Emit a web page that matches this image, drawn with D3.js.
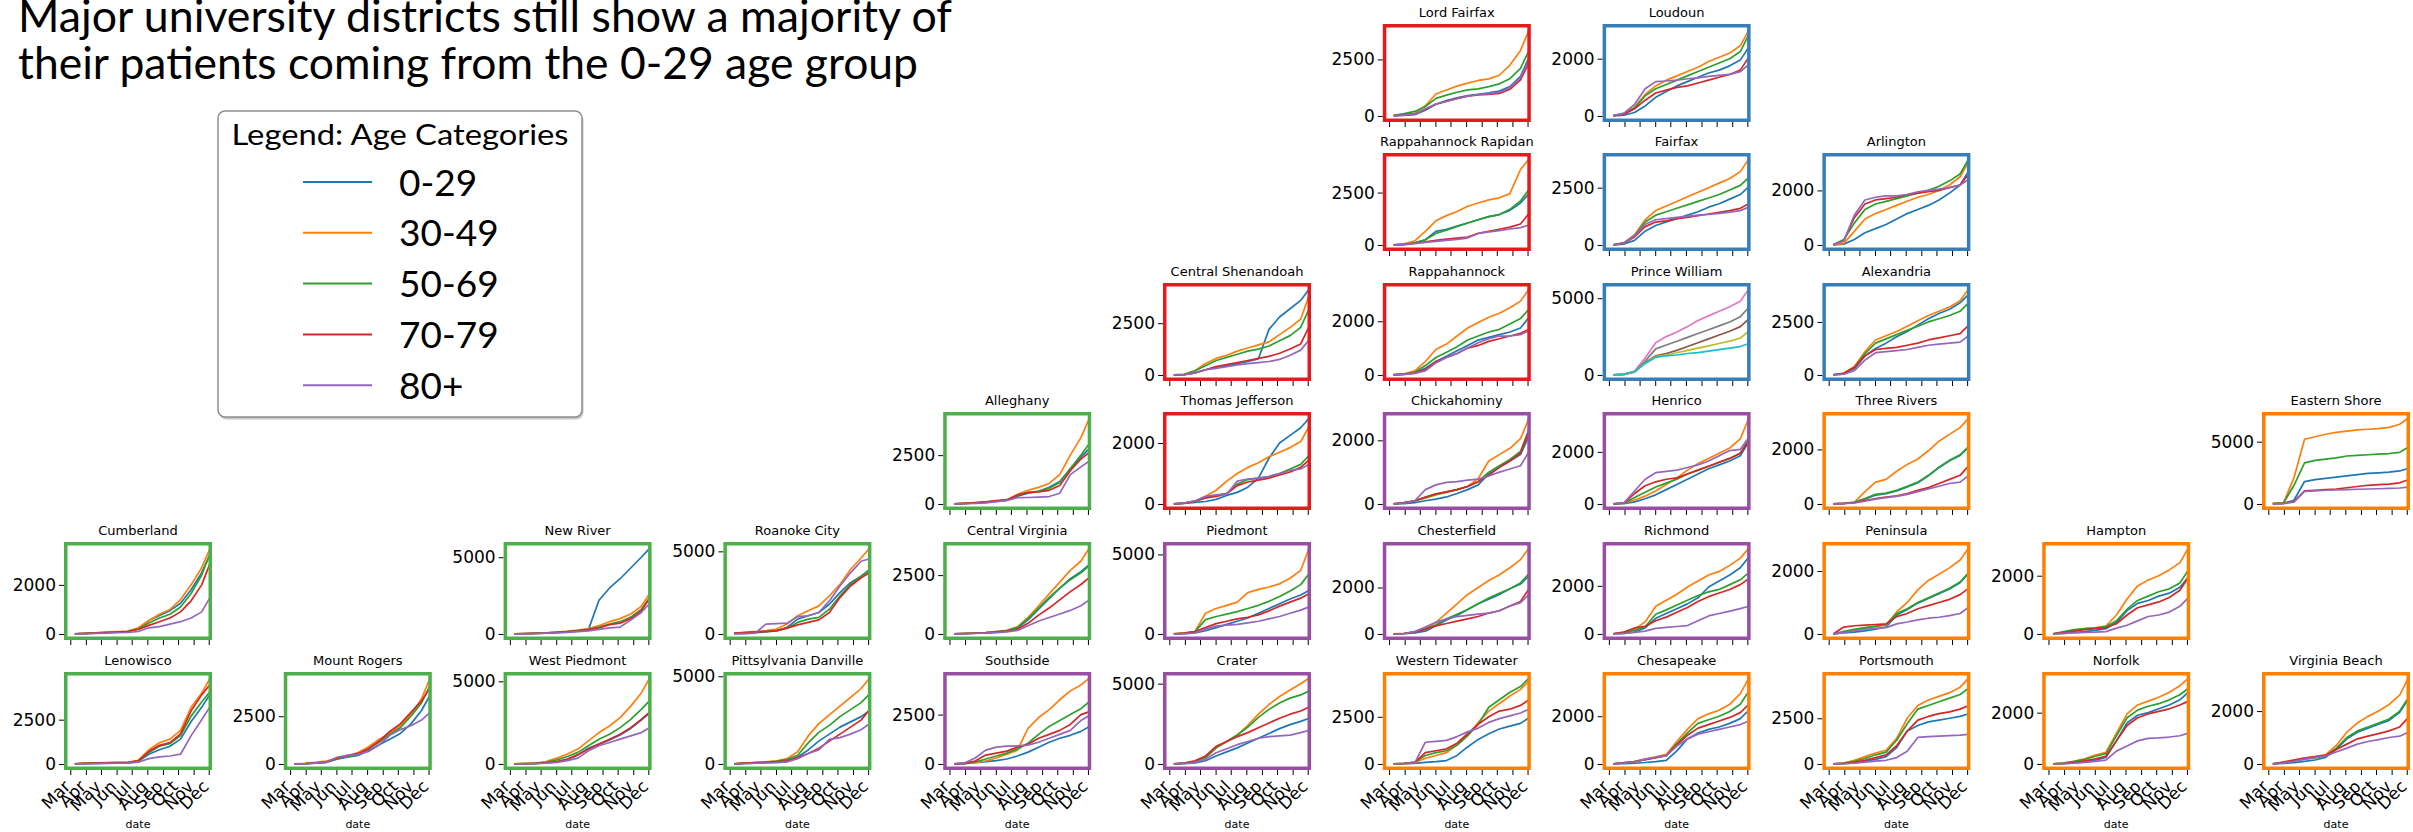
<!DOCTYPE html>
<html>
<head>
<meta charset="utf-8">
<script src="https://cdn.jsdelivr.net/npm/d3@7"></script>
<style>
  html, body { margin: 0; padding: 0; background: #fff; }
  svg { display: block; }
</style>
</head>
<body>
<svg id="chart" width="2413" height="832"></svg>
<script>
// Sample dates for the cumulative case counts (every three weeks, 2020)
const sampleDates = ["2020-03-10", "2020-03-31", "2020-04-21", "2020-05-12", "2020-06-02", "2020-06-23",
  "2020-07-14", "2020-08-04", "2020-08-25", "2020-09-15", "2020-10-06", "2020-10-27", "2020-11-17", "2020-12-04"];

const ageGroups = ["0-29", "30-49", "50-69", "70-79", "80+"];
const tab10 = ["#1f77b4", "#ff7f0e", "#2ca02c", "#d62728", "#9467bd",
  "#8c564b", "#e377c2", "#7f7f7f", "#bcbd22", "#17becf"];

// Health-planning regions and their frame colours
const regionColors = { Northwest: "#e41a1c", Northern: "#377eb8", Southwest: "#4daf4a", Central: "#984ea3", Eastern: "#ff7f00" };

const districtNames = ["Lord Fairfax", "Loudoun", "Rappahannock Rapidan", "Fairfax", "Arlington",
  "Central Shenandoah", "Rappahannock", "Prince William", "Alexandria",
  "Alleghany", "Thomas Jefferson", "Chickahominy", "Henrico", "Three Rivers", "Eastern Shore",
  "Cumberland", "New River", "Roanoke City", "Central Virginia", "Piedmont", "Chesterfield", "Richmond", "Peninsula", "Hampton",
  "Lenowisco", "Mount Rogers", "West Piedmont", "Pittsylvania Danville", "Southside", "Crater",
  "Western Tidewater", "Chesapeake", "Portsmouth", "Norfolk", "Virginia Beach"];
const districtRegion = ["Northwest", "Northern", "Northwest", "Northern", "Northern",
  "Northwest", "Northwest", "Northern", "Northern",
  "Southwest", "Northwest", "Central", "Central", "Eastern", "Eastern",
  "Southwest", "Southwest", "Southwest", "Southwest", "Central", "Central", "Central", "Eastern", "Eastern",
  "Southwest", "Southwest", "Southwest", "Southwest", "Central", "Central",
  "Eastern", "Eastern", "Eastern", "Eastern", "Eastern"];
const districtRow = [0, 0, 1, 1, 1, 2, 2, 2, 2, 3, 3, 3, 3, 3, 3, 4, 4, 4, 4, 4, 4, 4, 4, 4, 5, 5, 5, 5, 5, 5, 5, 5, 5, 5, 5];
const districtCol = [6, 7, 6, 7, 8, 5, 6, 7, 8, 4, 5, 6, 7, 8, 10, 0, 2, 3, 4, 5, 6, 7, 8, 9, 0, 1, 2, 3, 4, 5, 6, 7, 8, 9, 10];
const districtYTick = [2500, 2000, 2500, 2500, 2000, 2500, 2000, 5000, 2500,
  2500, 2000, 2000, 2000, 2000, 5000,
  2000, 5000, 5000, 2500, 5000, 2000, 2000, 2000, 2000,
  2500, 2500, 5000, 5000, 2500, 5000, 2500, 2000, 2500, 2000, 2000];
// Prince William was drawn with the second half of the colour cycle
const districtColorOffset = districtNames.map(n => n === "Prince William" ? 5 : 0);

// Cumulative cases per age group: [0-29, 30-49, 50-69, 70-79, 80+]
const lordFairfax = [
  [10, 30, 60, 250, 520, 680, 800, 900, 960, 1020, 1100, 1300, 1750, 2600],
  [20, 60, 120, 450, 970, 1150, 1320, 1450, 1570, 1640, 1800, 2250, 2900, 3800],
  [30, 100, 200, 420, 780, 920, 1050, 1150, 1200, 1300, 1420, 1650, 2100, 2900],
  [10, 50, 90, 300, 520, 650, 780, 880, 930, 950, 1000, 1180, 1600, 2350],
  [5, 40, 80, 320, 530, 640, 760, 880, 950, 990, 1050, 1250, 1700, 2450]];
const loudoun = [
  [5, 30, 120, 350, 650, 850, 1050, 1200, 1350, 1500, 1600, 1750, 1950, 2400],
  [10, 80, 300, 750, 1050, 1250, 1400, 1550, 1700, 1900, 2050, 2200, 2450, 3000],
  [10, 80, 280, 700, 950, 1100, 1250, 1400, 1550, 1700, 1850, 2000, 2250, 2850],
  [10, 60, 250, 550, 800, 900, 1000, 1050, 1150, 1250, 1350, 1450, 1600, 2050],
  [10, 100, 400, 950, 1200, 1220, 1250, 1300, 1330, 1380, 1420, 1450, 1550, 1800]];
const rappahannockRapidan = [
  [0, 30, 100, 250, 650, 750, 900, 1050, 1200, 1350, 1450, 1650, 2000, 2450],
  [10, 50, 200, 650, 1150, 1400, 1600, 1850, 2000, 2150, 2250, 2450, 3600, 4100],
  [0, 30, 100, 250, 550, 700, 880, 1050, 1200, 1350, 1450, 1700, 2100, 2650],
  [0, 30, 80, 150, 220, 280, 330, 380, 550, 650, 750, 850, 1000, 1500],
  [0, 20, 60, 120, 170, 220, 270, 330, 550, 620, 680, 760, 830, 950]];
const fairfax = [
  [5, 40, 200, 600, 850, 1000, 1150, 1300, 1450, 1650, 1800, 2000, 2200, 2550],
  [10, 100, 450, 1100, 1500, 1700, 1900, 2100, 2300, 2500, 2700, 2900, 3200, 3750],
  [10, 90, 400, 1000, 1300, 1450, 1600, 1750, 1900, 2050, 2200, 2400, 2600, 2950],
  [5, 80, 350, 800, 1000, 1050, 1150, 1200, 1280, 1350, 1420, 1500, 1600, 1800],
  [5, 80, 400, 900, 1100, 1150, 1200, 1250, 1300, 1330, 1380, 1430, 1500, 1650]];
const arlington = [
  [5, 30, 200, 450, 600, 750, 950, 1150, 1300, 1450, 1650, 1900, 2200, 2700],
  [5, 60, 500, 950, 1150, 1300, 1450, 1600, 1750, 1850, 2000, 2200, 2500, 3050],
  [10, 200, 800, 1300, 1500, 1600, 1700, 1800, 1900, 2000, 2150, 2350, 2600, 3150],
  [10, 150, 1000, 1500, 1650, 1700, 1750, 1850, 1900, 1950, 2000, 2100, 2200, 2600],
  [10, 150, 1100, 1650, 1750, 1800, 1800, 1850, 1950, 2000, 2050, 2100, 2200, 2400]];
const centralShenandoah = [
  [0, 20, 100, 250, 350, 450, 550, 650, 780, 2200, 2800, 3200, 3600, 4150],
  [0, 30, 200, 550, 800, 950, 1150, 1300, 1450, 1600, 1950, 2300, 2700, 3850],
  [0, 30, 200, 450, 700, 850, 1000, 1150, 1250, 1400, 1650, 1900, 2300, 3200],
  [0, 20, 100, 250, 400, 500, 600, 700, 800, 900, 1050, 1250, 1500, 2350],
  [0, 20, 100, 250, 320, 400, 480, 550, 600, 650, 750, 950, 1200, 1700]];
const rappahannock = [
  [5, 20, 70, 250, 500, 700, 900, 1100, 1300, 1400, 1500, 1600, 1750, 2150],
  [10, 40, 150, 500, 950, 1150, 1450, 1750, 1950, 2150, 2300, 2500, 2750, 3200],
  [10, 30, 100, 350, 650, 850, 1050, 1300, 1450, 1600, 1700, 1900, 2100, 2450],
  [5, 30, 80, 200, 500, 650, 800, 1000, 1100, 1250, 1350, 1450, 1550, 1700],
  [5, 20, 60, 150, 450, 650, 800, 1000, 1200, 1350, 1450, 1450, 1500, 1650]];
const princeWilliam = [
  [10, 40, 200, 800, 1250, 1400, 1600, 1850, 2100, 2350, 2600, 2850, 3150, 3650],
  [10, 50, 250, 1100, 2100, 2500, 2800, 3150, 3550, 3850, 4150, 4450, 4800, 5600],
  [10, 40, 200, 900, 1700, 1950, 2200, 2450, 2700, 2950, 3200, 3450, 3800, 4400],
  [10, 40, 200, 750, 1200, 1300, 1450, 1600, 1750, 1900, 2050, 2200, 2400, 2850],
  [10, 40, 200, 750, 1150, 1250, 1300, 1400, 1450, 1550, 1650, 1750, 1850, 2050]];
const alexandria = [
  [5, 50, 300, 900, 1250, 1500, 1800, 2050, 2350, 2650, 2900, 3100, 3400, 3800],
  [10, 80, 400, 1100, 1650, 1850, 2050, 2300, 2550, 2800, 3000, 3200, 3500, 4050],
  [10, 80, 350, 1000, 1500, 1700, 1900, 2100, 2300, 2500, 2650, 2800, 3000, 3400],
  [10, 80, 350, 900, 1200, 1250, 1300, 1400, 1500, 1650, 1750, 1850, 1950, 2350],
  [5, 40, 200, 700, 1050, 1100, 1150, 1200, 1300, 1400, 1450, 1500, 1550, 1850]];
const alleghany = [
  [0, 20, 50, 80, 130, 180, 400, 550, 650, 850, 1150, 1800, 2400, 2850],
  [0, 30, 60, 100, 150, 200, 500, 700, 850, 1050, 1500, 2500, 3400, 4400],
  [0, 30, 60, 100, 150, 200, 450, 600, 650, 800, 1100, 1800, 2500, 3100],
  [0, 30, 70, 110, 170, 220, 450, 580, 620, 700, 950, 1700, 2300, 2650],
  [0, 10, 30, 60, 120, 180, 320, 330, 350, 380, 550, 1500, 1900, 2200]];
const thomasJefferson = [
  [0, 20, 50, 80, 150, 280, 380, 550, 850, 1500, 2000, 2250, 2500, 2820],
  [0, 30, 100, 250, 450, 750, 1000, 1200, 1350, 1550, 1700, 1850, 2050, 2550],
  [0, 30, 90, 200, 280, 350, 650, 800, 850, 900, 1000, 1150, 1300, 1600],
  [0, 30, 90, 200, 250, 330, 600, 720, 780, 850, 950, 1050, 1200, 1450],
  [0, 30, 100, 250, 300, 320, 750, 820, 850, 900, 1000, 1100, 1150, 1300]];
const chickahominy = [
  [0, 10, 40, 100, 150, 220, 330, 450, 600, 950, 1150, 1350, 1550, 2150],
  [0, 40, 100, 180, 280, 360, 450, 550, 800, 1350, 1550, 1750, 2050, 2700],
  [0, 40, 100, 200, 300, 380, 450, 550, 700, 1000, 1200, 1400, 1650, 2350],
  [0, 40, 100, 220, 320, 380, 450, 550, 700, 900, 1150, 1350, 1600, 2300],
  [0, 30, 100, 450, 600, 680, 700, 750, 780, 880, 1000, 1100, 1200, 1650]];
const henrico = [
  [0, 10, 80, 200, 350, 550, 750, 950, 1150, 1350, 1500, 1650, 1850, 2400],
  [0, 30, 150, 300, 500, 750, 1000, 1300, 1550, 1750, 1950, 2150, 2500, 3300],
  [0, 30, 250, 450, 650, 800, 950, 1150, 1300, 1450, 1600, 1750, 1950, 2500],
  [0, 40, 400, 700, 850, 950, 1000, 1150, 1300, 1450, 1600, 1750, 1950, 2400],
  [0, 40, 500, 950, 1200, 1250, 1300, 1400, 1500, 1650, 1850, 2050, 2100, 2550]];
const threeRivers = [
  [0, 20, 60, 180, 320, 380, 480, 620, 780, 1030, 1330, 1580, 1780, 2080],
  [0, 20, 60, 450, 800, 900, 1200, 1450, 1650, 1950, 2300, 2550, 2800, 3150],
  [0, 20, 60, 200, 350, 400, 500, 650, 800, 1050, 1350, 1600, 1800, 2100],
  [0, 20, 50, 120, 200, 250, 300, 380, 500, 600, 750, 900, 1050, 1400],
  [0, 10, 40, 100, 180, 230, 280, 350, 450, 550, 650, 750, 800, 1050]];
const easternShore = [
  [20, 50, 300, 1800, 1950, 2050, 2150, 2250, 2350, 2450, 2500, 2550, 2650, 2850],
  [30, 80, 2100, 5200, 5400, 5600, 5750, 5850, 5950, 6000, 6050, 6150, 6400, 6900],
  [30, 60, 1500, 3300, 3500, 3600, 3700, 3850, 3900, 3950, 4000, 4050, 4150, 4550],
  [20, 40, 200, 1050, 1100, 1150, 1200, 1300, 1400, 1500, 1550, 1600, 1700, 1950],
  [10, 30, 150, 1000, 1050, 1100, 1120, 1150, 1180, 1200, 1220, 1250, 1280, 1350]];
const cumberland = [
  [0, 10, 30, 50, 70, 100, 220, 550, 750, 950, 1250, 1800, 2500, 3250],
  [0, 20, 50, 80, 100, 120, 250, 550, 800, 1000, 1400, 2000, 2700, 3500],
  [0, 20, 40, 60, 80, 100, 200, 450, 650, 800, 1100, 1650, 2400, 3300],
  [0, 20, 40, 60, 80, 100, 180, 350, 500, 650, 900, 1350, 2000, 2900],
  [0, 10, 20, 30, 50, 60, 100, 250, 300, 400, 500, 650, 900, 1500]];
const newRiver = [
  [0, 10, 30, 50, 80, 120, 180, 280, 2200, 3000, 3600, 4300, 5000, 5600],
  [0, 20, 50, 80, 120, 170, 250, 350, 550, 800, 1000, 1300, 1800, 2650],
  [0, 20, 40, 70, 100, 150, 220, 300, 450, 650, 800, 1100, 1600, 2400],
  [0, 20, 40, 60, 100, 150, 200, 280, 400, 600, 700, 1000, 1500, 2350],
  [0, 10, 30, 50, 80, 100, 150, 200, 300, 400, 450, 900, 1400, 2000]];
const roanokeCity = [
  [20, 40, 80, 120, 180, 400, 900, 1100, 1300, 1800, 2500, 3100, 3500, 3850],
  [50, 100, 150, 200, 300, 600, 1100, 1400, 1700, 2300, 3000, 3900, 4600, 5200],
  [30, 60, 100, 150, 200, 350, 700, 900, 1000, 1500, 2300, 3000, 3500, 3900],
  [50, 80, 120, 150, 200, 350, 550, 700, 850, 1300, 2200, 2900, 3400, 3700],
  [0, 20, 50, 600, 620, 650, 1050, 1100, 1300, 2000, 2900, 3700, 4400, 4550]];
const centralVirginia = [
  [0, 15, 30, 50, 80, 120, 250, 600, 1050, 1500, 1950, 2350, 2650, 2950],
  [0, 20, 40, 60, 100, 150, 300, 700, 1200, 1700, 2200, 2700, 3100, 3650],
  [0, 20, 40, 60, 100, 140, 280, 650, 1100, 1550, 1950, 2300, 2600, 2900],
  [0, 15, 30, 50, 80, 120, 200, 450, 800, 1100, 1450, 1800, 2100, 2400],
  [0, 10, 20, 40, 60, 90, 150, 350, 550, 700, 850, 1000, 1200, 1450]];
const piedmont = [
  [0, 20, 60, 200, 400, 600, 800, 1000, 1300, 1600, 1900, 2200, 2450, 2750],
  [0, 50, 150, 1300, 1600, 1800, 2000, 2600, 2800, 2950, 3150, 3500, 4000, 5400],
  [0, 50, 150, 900, 1100, 1250, 1400, 1600, 1800, 2050, 2350, 2700, 3100, 3800],
  [0, 50, 150, 400, 650, 800, 950, 1050, 1200, 1450, 1750, 2000, 2250, 2550],
  [0, 20, 60, 300, 500, 550, 600, 700, 800, 950, 1100, 1300, 1500, 1700]];
const chesterfield = [
  [0, 10, 40, 120, 350, 600, 800, 1050, 1300, 1500, 1700, 1950, 2150, 2500],
  [0, 30, 100, 250, 500, 900, 1300, 1700, 2000, 2300, 2550, 2850, 3200, 3700],
  [0, 20, 80, 220, 400, 650, 850, 1050, 1300, 1550, 1750, 1950, 2200, 2600],
  [0, 20, 80, 200, 350, 450, 550, 650, 750, 900, 1000, 1200, 1400, 1950],
  [0, 20, 100, 300, 500, 650, 750, 800, 850, 900, 1000, 1200, 1350, 1700]];
const richmond = [
  [0, 20, 80, 250, 650, 850, 1050, 1250, 1500, 1950, 2200, 2450, 2750, 3200],
  [10, 80, 200, 500, 1150, 1400, 1650, 1950, 2200, 2450, 2600, 2850, 3150, 3570],
  [0, 50, 150, 300, 820, 1000, 1200, 1400, 1600, 1750, 1850, 2050, 2250, 2550],
  [0, 80, 250, 320, 550, 700, 900, 1100, 1350, 1550, 1700, 1850, 2050, 2300],
  [0, 20, 60, 120, 230, 270, 310, 350, 550, 750, 850, 950, 1050, 1150]];
const peninsula = [
  [0, 30, 60, 100, 150, 220, 600, 780, 980, 1130, 1280, 1430, 1630, 1930],
  [0, 50, 120, 180, 230, 280, 700, 1000, 1400, 1700, 1900, 2100, 2350, 2730],
  [0, 80, 150, 200, 250, 300, 650, 800, 1000, 1150, 1300, 1450, 1650, 1950],
  [0, 220, 260, 280, 300, 320, 550, 650, 800, 900, 1000, 1100, 1250, 1450],
  [0, 50, 100, 150, 180, 200, 320, 380, 450, 500, 530, 580, 650, 850]];
const hampton = [
  [0, 20, 50, 80, 120, 180, 400, 800, 1050, 1150, 1300, 1400, 1600, 1950],
  [0, 50, 120, 180, 220, 270, 650, 1200, 1650, 1850, 2000, 2200, 2450, 2950],
  [0, 80, 150, 180, 200, 250, 450, 850, 1150, 1300, 1450, 1550, 1750, 2200],
  [0, 50, 100, 150, 180, 220, 350, 650, 900, 1000, 1100, 1250, 1500, 1950],
  [0, 20, 40, 50, 60, 80, 200, 300, 450, 600, 650, 750, 950, 1250]];
const lenowisco = [
  [0, 20, 30, 40, 50, 60, 150, 550, 800, 1000, 1400, 2400, 3200, 3950],
  [0, 50, 60, 70, 80, 90, 200, 800, 1200, 1400, 1900, 3200, 4000, 4850],
  [0, 40, 50, 60, 70, 80, 160, 650, 1000, 1150, 1600, 2700, 3500, 4100],
  [0, 40, 50, 60, 70, 80, 180, 700, 1050, 1200, 1700, 3000, 3900, 4500],
  [0, 10, 20, 30, 40, 50, 100, 300, 400, 450, 550, 1600, 2500, 3250]];
const mountRogers = [
  [0, 10, 40, 80, 250, 350, 450, 700, 1000, 1300, 1600, 2100, 2800, 3600],
  [0, 30, 80, 150, 300, 400, 600, 900, 1300, 1600, 2000, 2600, 3400, 4500],
  [0, 20, 60, 100, 300, 400, 500, 800, 1150, 1550, 1900, 2500, 3200, 4100],
  [0, 20, 60, 100, 300, 450, 550, 800, 1200, 1700, 2100, 2700, 3300, 4000],
  [0, 10, 40, 80, 350, 450, 500, 650, 1000, 1500, 1800, 2000, 2300, 2700]];
const westPiedmont = [
  [0, 10, 30, 60, 120, 250, 550, 950, 1200, 1450, 1750, 2150, 2650, 3100],
  [0, 20, 50, 150, 350, 600, 900, 1400, 1900, 2300, 2800, 3500, 4300, 5200],
  [0, 20, 40, 100, 250, 450, 700, 1100, 1500, 1800, 2200, 2700, 3300, 3850],
  [0, 20, 40, 80, 150, 300, 550, 900, 1200, 1500, 1800, 2200, 2700, 3150],
  [0, 10, 20, 50, 100, 200, 350, 800, 1100, 1300, 1500, 1700, 1900, 2200]];
const pittsylvaniaDanville = [
  [0, 30, 50, 70, 100, 150, 400, 800, 1300, 1700, 2100, 2400, 2700, 3050],
  [0, 50, 80, 120, 180, 300, 700, 1600, 2300, 2800, 3300, 3800, 4300, 4900],
  [0, 50, 80, 100, 150, 250, 500, 1200, 1800, 2200, 2700, 3100, 3500, 4000],
  [0, 50, 80, 100, 130, 180, 350, 600, 900, 1300, 1700, 2100, 2500, 3100],
  [0, 20, 40, 60, 80, 120, 300, 600, 800, 1400, 1500, 1700, 1950, 2300]];
const southside = [
  [0, 20, 60, 120, 170, 250, 400, 600, 850, 1100, 1300, 1450, 1650, 1900],
  [0, 30, 80, 150, 300, 500, 700, 1800, 2350, 2750, 3250, 3700, 4000, 4350],
  [0, 30, 100, 250, 400, 550, 750, 1050, 1500, 1900, 2200, 2500, 2800, 3150],
  [0, 30, 150, 450, 550, 650, 850, 1000, 1300, 1500, 1700, 2000, 2500, 2650],
  [0, 50, 300, 700, 850, 900, 920, 950, 1100, 1300, 1500, 1700, 2200, 2450]];
const crater = [
  [0, 20, 60, 200, 500, 750, 1000, 1300, 1600, 1900, 2200, 2450, 2650, 2850],
  [0, 50, 150, 400, 1000, 1400, 1800, 2400, 3100, 3700, 4200, 4600, 5000, 5350],
  [0, 50, 150, 400, 1000, 1400, 1800, 2300, 2900, 3400, 3800, 4100, 4300, 4550],
  [0, 60, 200, 500, 1100, 1400, 1700, 1950, 2250, 2550, 2850, 3100, 3300, 3550],
  [0, 30, 100, 300, 700, 950, 1200, 1400, 1600, 1700, 1750, 1800, 1950, 2100]];
const westernTidewater = [
  [0, 10, 30, 80, 120, 180, 450, 900, 1300, 1600, 1850, 2000, 2150, 2450],
  [0, 20, 60, 300, 450, 600, 1000, 1500, 2200, 2800, 3200, 3600, 3950, 4400],
  [0, 30, 100, 450, 600, 700, 1000, 1500, 2100, 3000, 3400, 3800, 4100, 4550],
  [0, 30, 80, 600, 700, 800, 1100, 1600, 2100, 2500, 2800, 2900, 3100, 3400],
  [0, 20, 60, 1150, 1200, 1250, 1450, 1700, 1900, 2200, 2400, 2550, 2700, 2900]];
const chesapeake = [
  [0, 10, 30, 60, 100, 150, 550, 1050, 1300, 1450, 1550, 1700, 1900, 2250],
  [0, 50, 100, 200, 300, 400, 950, 1450, 1900, 2100, 2250, 2500, 2950, 3600],
  [0, 60, 100, 180, 260, 350, 850, 1300, 1700, 1850, 2000, 2200, 2500, 3050],
  [0, 50, 100, 180, 260, 350, 800, 1200, 1500, 1650, 1800, 1950, 2150, 2500],
  [0, 40, 100, 200, 280, 350, 750, 1050, 1250, 1350, 1450, 1550, 1650, 1800]];
const portsmouth = [
  [0, 20, 60, 150, 250, 400, 900, 1800, 2100, 2300, 2400, 2500, 2600, 2750],
  [0, 50, 200, 400, 600, 750, 1400, 2500, 3200, 3500, 3700, 3900, 4200, 4700],
  [0, 50, 150, 300, 500, 650, 1300, 2200, 3000, 3200, 3400, 3600, 3800, 4150],
  [0, 30, 100, 200, 350, 500, 1000, 1800, 2400, 2600, 2750, 2850, 3000, 3200],
  [0, 10, 40, 100, 150, 200, 350, 700, 1450, 1500, 1520, 1550, 1580, 1620]];
const norfolk = [
  [0, 10, 40, 80, 150, 250, 900, 1600, 1900, 2000, 2150, 2300, 2500, 2800],
  [0, 30, 100, 200, 350, 450, 1200, 1950, 2300, 2450, 2600, 2800, 3050, 3350],
  [0, 30, 100, 180, 300, 400, 1100, 1800, 2100, 2250, 2350, 2500, 2700, 2950],
  [0, 20, 60, 120, 200, 300, 900, 1500, 1800, 1950, 2050, 2150, 2300, 2450],
  [0, 10, 30, 60, 100, 150, 500, 700, 900, 1000, 1020, 1050, 1100, 1200]];
const virginiaBeach = [
  [0, 20, 50, 100, 150, 250, 550, 950, 1200, 1350, 1500, 1650, 1950, 2450],
  [0, 80, 150, 220, 280, 350, 700, 1200, 1550, 1800, 2000, 2250, 2600, 3250],
  [0, 60, 120, 180, 230, 300, 600, 1000, 1250, 1400, 1550, 1700, 2000, 2500],
  [0, 60, 150, 220, 280, 330, 550, 750, 950, 1050, 1150, 1250, 1400, 1750],
  [0, 40, 100, 180, 250, 300, 450, 600, 750, 850, 920, 1000, 1050, 1200]];

const districtCases = [lordFairfax, loudoun, rappahannockRapidan, fairfax, arlington,
  centralShenandoah, rappahannock, princeWilliam, alexandria,
  alleghany, thomasJefferson, chickahominy, henrico, threeRivers, easternShore,
  cumberland, newRiver, roanokeCity, centralVirginia, piedmont, chesterfield, richmond, peninsula, hampton,
  lenowisco, mountRogers, westPiedmont, pittsylvaniaDanville, southside, crater,
  westernTidewater, chesapeake, portsmouth, norfolk, virginiaBeach];

const titleLines = ["Major university districts still show a majority of",
  "their patients coming from the 0-29 age group"];
const legendTitle = "Legend: Age Categories";

// ---------- drawing ----------
const svg = d3.select("#chart");
const parseDate = d3.timeParse("%Y-%m-%d");
const dates = sampleDates.map(parseDate);
const monthTicks = d3.timeMonths(new Date(2020, 2, 1), new Date(2020, 11, 2));
const xDomain = [new Date(2020, 1, 21), new Date(2020, 11, 4)];

const gridLeft = 64, gridStep = 219.8;
const rowTops = [24, 153, 283, 412, 542, 672];
const boxW = 148, boxH = 98, frameW = 3.5, inset = frameW / 2;
const axisFont = "DejaVu Sans, Verdana, sans-serif";
const headFont = "Lato, 'Open Sans', sans-serif";

svg.append("rect").attr("width", 2413).attr("height", 832).attr("fill", "#fff");

// Slide title
svg.append("g").selectAll("text").data(titleLines).join("text")
  .attr("x", 18).attr("y", (d, i) => i === 0 ? 32 : 79)
  .attr("font-family", headFont).attr("font-size", 44).attr("fill", "#000")
  .attr("textLength", (d, i) => i === 0 ? 934 : 900)
  .attr("lengthAdjust", "spacingAndGlyphs")
  .text(d => d);

// Legend box
const legend = svg.append("g");
legend.append("rect").attr("x", 219.5).attr("y", 113.5).attr("width", 364).attr("height", 306)
  .attr("rx", 7).attr("fill", "#9a9a9a").attr("opacity", 0.55);
legend.append("rect").attr("x", 218).attr("y", 111).attr("width", 364).attr("height", 306)
  .attr("rx", 7).attr("fill", "#fff").attr("stroke", "#8f8f8f").attr("stroke-width", 1.5);
legend.append("text").attr("x", 400).attr("y", 145).attr("text-anchor", "middle")
  .attr("font-family", headFont).attr("font-size", 29).attr("fill", "#000")
  .attr("textLength", 337).attr("lengthAdjust", "spacingAndGlyphs")
  .text(legendTitle);
const legendItems = legend.selectAll("g.item").data(ageGroups).join("g")
  .attr("class", "item")
  .attr("transform", (d, i) => `translate(0, ${182 + i * 50.8})`);
legendItems.append("line").attr("x1", 303).attr("x2", 372)
  .attr("stroke", (d, i) => tab10[i]).attr("stroke-width", 2);
legendItems.append("text").attr("x", 399).attr("y", 13.5)
  .attr("font-family", headFont).attr("font-size", 37).attr("fill", "#000")
  .text(d => d);

// Small multiples
const lineGen = d3.line().curve(d3.curveLinear);

districtNames.forEach((name, k) => {
  const row = districtRow[k], col = districtCol[k];
  const bx = gridLeft + gridStep * col, by = rowTops[row];
  const series = districtCases[k];
  const maxV = d3.max(series, s => d3.max(s));

  const x = d3.scaleTime().domain(xDomain).range([bx + inset, bx + boxW - inset]);
  const y = d3.scaleLinear().domain([-0.05 * maxV, 1.05 * maxV])
    .range([by + boxH - inset, by + inset]);

  const g = svg.append("g").attr("class", "panel");
  const clipId = "clip" + k;
  g.append("clipPath").attr("id", clipId).append("rect")
    .attr("x", bx + inset).attr("y", by + inset)
    .attr("width", boxW - frameW).attr("height", boxH - frameW);

  // Title
  g.append("text").attr("x", bx + boxW / 2).attr("y", by - 7)
    .attr("text-anchor", "middle").attr("font-family", axisFont)
    .attr("font-size", 13).attr("fill", "#000").text(name);

  // Lines
  const lines = g.append("g").attr("clip-path", `url(#${clipId})`);
  series.forEach((vals, si) => {
    lines.append("path")
      .attr("d", lineGen(vals.map((v, i) => [x(dates[i]), y(v)])))
      .attr("fill", "none")
      .attr("stroke", tab10[si + districtColorOffset[k]])
      .attr("stroke-width", 1.7)
      .attr("stroke-linejoin", "round");
  });

  // Y axis
  const yAxis = g.append("g").attr("transform", `translate(${bx},0)`)
    .call(d3.axisLeft(y).tickValues([0, districtYTick[k]]).tickSize(5).tickPadding(3)
      .tickFormat(d3.format("d")));
  yAxis.select(".domain").remove();
  yAxis.selectAll("text").attr("font-family", axisFont).attr("font-size", 17).attr("fill", "#000");
  yAxis.selectAll("line").attr("stroke", "#000");

  // X axis
  const bottomRow = row === 5;
  const xAxis = g.append("g").attr("transform", `translate(0,${by + boxH})`)
    .call(d3.axisBottom(x).tickValues(monthTicks).tickSize(5)
      .tickFormat(bottomRow ? d3.timeFormat("%b") : () => ""));
  xAxis.select(".domain").remove();
  xAxis.selectAll("line").attr("stroke", "#000");
  if (bottomRow) {
    xAxis.selectAll("text")
      .attr("font-family", axisFont).attr("font-size", 17).attr("fill", "#000")
      .attr("text-anchor", "end")
      .attr("x", 0).attr("y", 0).attr("dy", "0.71em")
      .attr("transform", "translate(-8,9) rotate(-45)");
    g.append("text").attr("x", bx + boxW / 2).attr("y", 828)
      .attr("text-anchor", "middle").attr("font-family", axisFont)
      .attr("font-size", 11).attr("fill", "#000").text("date");
  }

  // Region-coloured frame
  g.append("rect").attr("x", bx + inset).attr("y", by + inset)
    .attr("width", boxW - frameW).attr("height", boxH - frameW)
    .attr("fill", "none").attr("stroke", regionColors[districtRegion[k]])
    .attr("stroke-width", frameW);
});
</script>
</body>
</html>
